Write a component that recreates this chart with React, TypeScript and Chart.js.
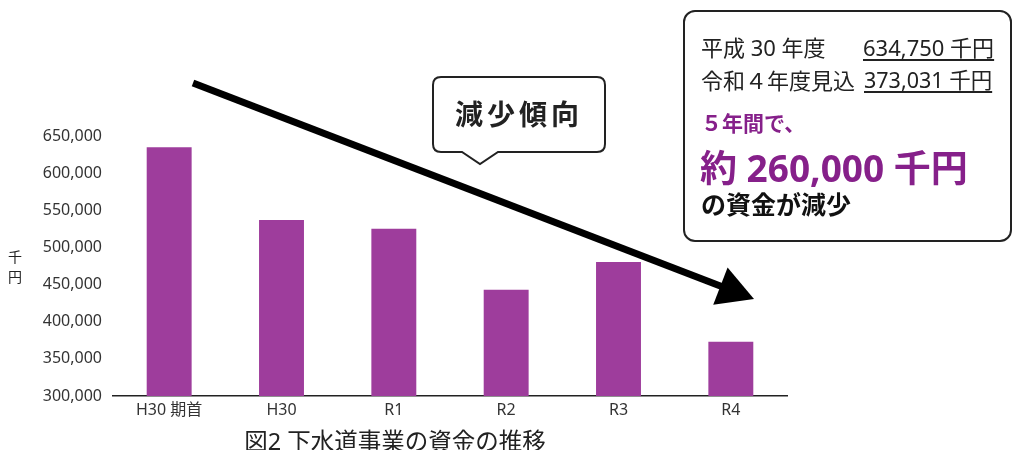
import React, { useEffect, useRef } from "react";
import { Chart, registerables } from "chart.js";

Chart.register(...registerables);

const categories = ["H30 期首", "H30", "R1", "R2", "R3", "R4"];
const fundValues = [634750, 537000, 525000, 443000, 480500, 373031];
const yMin = 300000;
const yMax = 650000;
const yStep = 50000;

const FONT = "'Noto Sans', 'Noto Sans CJK JP', sans-serif";
const CJK = "'Noto Sans', 'Noto Sans CJK JP', sans-serif";
const BAR = "#9e3d9c";
const PURPLE = "#86208a";

export default function App() {
  const ref = useRef<HTMLCanvasElement | null>(null);

  useEffect(() => {
    if (!ref.current) return;
    const chart = new Chart(ref.current, {
      type: "bar",
      data: {
        labels: categories,
        datasets: [
          {
            label: "資金",
            data: fundValues,
            backgroundColor: BAR,
            borderWidth: 0,
            barPercentage: 0.4,
            categoryPercentage: 1.0,
          },
        ],
      },
      options: {
        responsive: false,
        animation: false,
        devicePixelRatio: 1,
        layout: { padding: { top: 136, left: 8, right: 230, bottom: 14 } },
        plugins: {
          legend: { display: false },
          tooltip: { enabled: false },
          title: { display: false },
        },
        scales: {
          x: {
            grid: { display: false, drawTicks: false },
            border: { display: true, color: "#222", width: 1.5 },
            ticks: {
              color: "#333",
              font: { family: FONT, size: 16 },
              padding: 5,
            },
            afterFit: (s: any) => {
              s.height = 40;
            },
          },
          y: {
            min: yMin,
            max: yMax,
            grid: { display: false, drawTicks: false },
            border: { display: false },
            ticks: {
              stepSize: yStep,
              color: "#333",
              font: { family: FONT, size: 16 },
              padding: 11,
              callback: (v: any) => Number(v).toLocaleString("en-US"),
            },
            afterFit: (s: any) => {
              s.width = 105;
            },
          },
        },
      },
    });
    return () => chart.destroy();
  }, []);

  const abs = (extra: React.CSSProperties): React.CSSProperties => ({
    position: "absolute",
    whiteSpace: "nowrap",
    fontFamily: CJK,
    ...extra,
  });

  // arrow geometry (annotation)
  const sx = 193, sy = 83, tx = 754, ty = 299;
  const dx = tx - sx, dy = ty - sy;
  const len = Math.sqrt(dx * dx + dy * dy);
  const ux = dx / len, uy = dy / len;
  const headLen = 36, headHalf = 20;
  const bx = tx - headLen * ux, by = ty - headLen * uy;
  const nx = -uy, ny = ux;
  const p1 = `${bx + headHalf * nx},${by + headHalf * ny}`;
  const p2 = `${bx - headHalf * nx},${by - headHalf * ny}`;

  return (
    <div
      style={{
        position: "fixed",
        left: 0,
        top: 0,
        width: 1017,
        height: 450,
        overflow: "hidden",
        background: "#fff",
      }}
    >
      <canvas
        ref={ref}
        width={1017}
        height={450}
        style={{ position: "absolute", left: 0, top: 0, width: 1017, height: 450 }}
      />
      <svg
        width={1017}
        height={450}
        style={{ position: "absolute", left: 0, top: 0, pointerEvents: "none" }}
      >
        <line x1={sx} y1={sy} x2={bx + ux * 2} y2={by + uy * 2} stroke="#000" strokeWidth={7} />
        <polygon points={`${tx},${ty} ${p1} ${p2}`} fill="#000" />
        <path
          d="M 441 77 H 597 Q 605 77 605 85 V 144 Q 605 152 597 152 H 498 L 480 164 L 462 152 H 441 Q 433 152 433 144 V 85 Q 433 77 441 77 Z"
          fill="#fff"
          stroke="#222"
          strokeWidth={2}
        />
      </svg>
      <div
        style={abs({
          left: 433,
          top: 100,
          width: 172,
          textAlign: "center",
          fontSize: 28,
          lineHeight: "28px",
          fontWeight: 700,
          letterSpacing: 4,
          color: "#222",
        })}
      >
        減少傾向
      </div>

      {/* y axis unit */}
      <div style={abs({ left: 8, top: 247, fontSize: 14, lineHeight: "20px", color: "#222", width: 14 })}>
        千<br />円
      </div>

      {/* figure caption */}
      <div
        style={abs({
          left: 195,
          width: 400,
          top: 430,
          textAlign: "center",
          fontSize: 23.5,
          lineHeight: "23px",
          color: "#222",
        })}
      >
        図2 下水道事業の資金の推移
      </div>

      {/* info box */}
      <div
        style={{
          position: "absolute",
          left: 683,
          top: 10,
          width: 329,
          height: 232,
          boxSizing: "border-box",
          border: "2px solid #222",
          borderRadius: 12,
          background: "#fff",
        }}
      />
      <div style={abs({ left: 701, top: 36, fontSize: 22, lineHeight: "22px", color: "#222" })}>平成 30 年度</div>
      <div
        style={abs({
          left: 863,
          top: 36,
          fontSize: 22,
          lineHeight: "22px",
          color: "#222",
          textDecoration: "underline",
          textUnderlineOffset: 3,
        })}
      >
        634,750 千円
      </div>
      <div style={abs({ left: 701, top: 69, fontSize: 22, lineHeight: "22px", color: "#222" })}>令和４年度見込</div>
      <div
        style={abs({
          left: 864,
          top: 69,
          fontSize: 21.5,
          lineHeight: "22px",
          color: "#222",
          textDecoration: "underline",
          textUnderlineOffset: 3,
        })}
      >
        373,031 千円
      </div>
      <div style={abs({ left: 701, top: 113, fontSize: 21, lineHeight: "21px", fontWeight: 700, color: PURPLE })}>
        ５年間で、
      </div>
      <div style={abs({ left: 700, top: 149, fontSize: 37, lineHeight: "37px", fontWeight: 700, color: PURPLE })}>
        約 260,000 千円
      </div>
      <div style={abs({ left: 701, top: 192, fontSize: 25, lineHeight: "25px", fontWeight: 700, color: "#111" })}>
        の資金が減少
      </div>
    </div>
  );
}
